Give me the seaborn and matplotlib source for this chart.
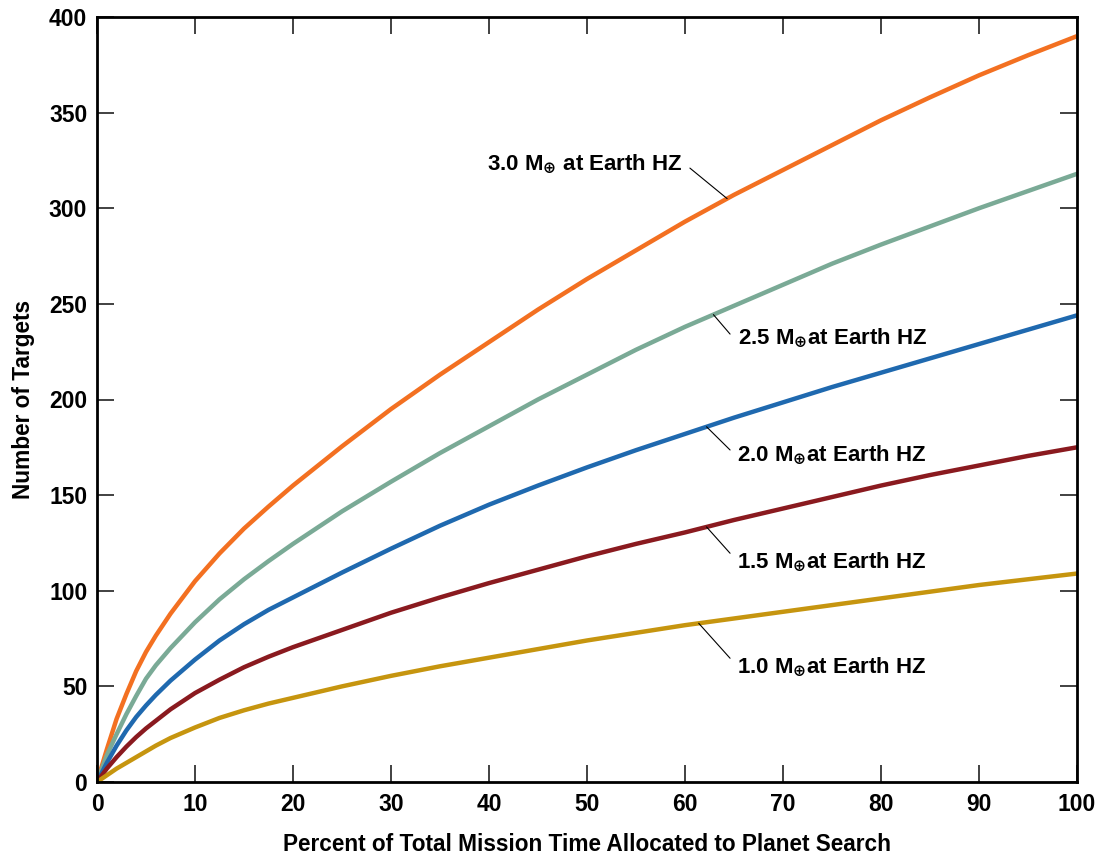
import numpy as np
import pandas as pd
import matplotlib
matplotlib.use("Agg")
import matplotlib.pyplot as plt
import seaborn as sns

# -------------------------------
# Data
# -------------------------------

pct_time = [0, 1, 2, 3, 4, 5, 6, 7.5, 10, 12.5, 15, 17.5, 20,
            25, 30, 35, 40, 45, 50, 55, 60, 65, 70, 75, 80, 85, 90, 95, 100]

targets_3_0 = [0, 17, 33, 46, 58, 68, 76.5, 88, 105, 119.5, 132.5, 144, 155,
               175.5, 195, 213, 230, 247, 263, 278, 293, 307, 320, 333, 346, 358, 369.5, 380, 390]
targets_2_5 = [0, 14, 25, 35.5, 45, 54, 61, 70, 83.5, 95.5, 106, 115.5, 124.5,
               141.5, 157, 172, 186, 200, 213, 226, 238, 249, 260, 271, 281, 290.5, 300, 309, 318]
targets_2_0 = [0, 10, 19, 27, 34, 40, 45.5, 53, 64, 74, 82.5, 90, 96.5,
               109.5, 122, 134, 145, 155, 164.5, 173.5, 182, 190.5, 198.5, 206.5, 214, 221.5, 229, 236.5, 244]
targets_1_5 = [0, 7, 13, 18.5, 23.5, 28, 32, 38, 46.5, 53.5, 60, 65.5, 70.5,
               79.5, 88.5, 96.5, 104, 111, 118, 124.5, 130.5, 137, 143, 149, 155, 160.5, 165.5, 170.5, 175]
targets_1_0 = [0, 3.5, 7, 10, 13, 16, 19, 23, 28.5, 33.5, 37.5, 41, 44,
               50, 55.5, 60.5, 65, 69.5, 74, 78, 82, 85.5, 89, 92.5, 96, 99.5, 103, 106, 109]

series_names = ["3.0", "2.5", "2.0", "1.5", "1.0"]
series_values = [targets_3_0, targets_2_5, targets_2_0, targets_1_5, targets_1_0]
series_colors = ["#F37021", "#7AAA96", "#1F69AF", "#8A1A1F", "#C6950F"]

x_ticks = list(range(0, 101, 10))
y_ticks = list(range(0, 401, 50))

# long-form table for seaborn
rows = []
for name, vals in zip(series_names, series_values):
    for xv, yv in zip(pct_time, vals):
        rows.append({"pct": xv, "targets": yv, "mass": name})
df = pd.DataFrame(rows)

# -------------------------------
# Plot
# -------------------------------

sns.set_style("ticks")
plt.rcParams["font.family"] = ["Liberation Sans", "DejaVu Sans"]
plt.rcParams["font.weight"] = "bold"
plt.rcParams["mathtext.fontset"] = "dejavusans"
plt.rcParams["text.color"] = "black"
plt.rcParams["axes.labelcolor"] = "black"

fig = plt.figure(figsize=(11.14, 8.57), dpi=100)
ax = fig.add_axes([97 / 1114, 1 - 782 / 857, 980 / 1114, 765 / 857])

sns.lineplot(
    data=df,
    x="pct",
    y="targets",
    hue="mass",
    hue_order=series_names,
    palette=dict(zip(series_names, series_colors)),
    linewidth=3.2,
    legend=False,
    ax=ax,
)

ax.set_xlim(0, 100)
ax.set_ylim(0, 400)
ax.set_xticks(x_ticks)
ax.set_yticks(y_ticks)

for side in ["left", "right", "top", "bottom"]:
    ax.spines[side].set_visible(True)
    ax.spines[side].set_linewidth(2.0)
    ax.spines[side].set_color("black")

ax.tick_params(
    axis="both", direction="in", length=12, width=1.3, color="#333333",
    labelcolor="black", top=True, right=True, labelsize=16.5,
)
ax.tick_params(axis="x", pad=8)
ax.tick_params(axis="y", pad=7)
for lbl in ax.get_xticklabels() + ax.get_yticklabels():
    lbl.set_fontweight("bold")

ax.set_xlabel("Percent of Total Mission Time Allocated to Planet Search",
              fontsize=16.3, fontweight="bold", labelpad=12)
ax.set_ylabel("Number of Targets", fontsize=16.3, fontweight="bold", labelpad=10)

# -------------------------------
# Curve labels with leader lines
# -------------------------------

# (series, label text, text x, text baseline y, alignment, leader x on curve, leader end)
label_spots = [
    ("3.0", r"3.0 M$_{\oplus}$ at Earth HZ", 59.8, 320.5, "right", 64.3, (60.5, 321.0)),
    ("2.5", r"2.5 M$_{\oplus}$at Earth HZ", 65.4, 229.5, "left", 62.9, (64.6, 234.2)),
    ("2.0", r"2.0 M$_{\oplus}$at Earth HZ", 65.3, 168.4, "left", 62.2, (64.6, 173.6)),
    ("1.5", r"1.5 M$_{\oplus}$at Earth HZ", 65.3, 112.4, "left", 62.2, (64.6, 119.6)),
    ("1.0", r"1.0 M$_{\oplus}$at Earth HZ", 65.3, 57.5, "left", 61.4, (64.6, 64.7)),
]

for name, text, tx, ty, ha, xa, lead_end in label_spots:
    vals = series_values[series_names.index(name)]
    ya = np.interp(xa, pct_time, vals)
    ax.text(tx, ty, text, ha=ha, va="baseline", fontsize=16,
            fontweight="bold", color="black")
    ax.annotate(
        "",
        xy=(xa, ya),
        xytext=lead_end,
        arrowprops=dict(arrowstyle="-", color="black", lw=0.8,
                        shrinkA=0, shrinkB=0),
    )

plt.savefig("out.png", dpi=100)
